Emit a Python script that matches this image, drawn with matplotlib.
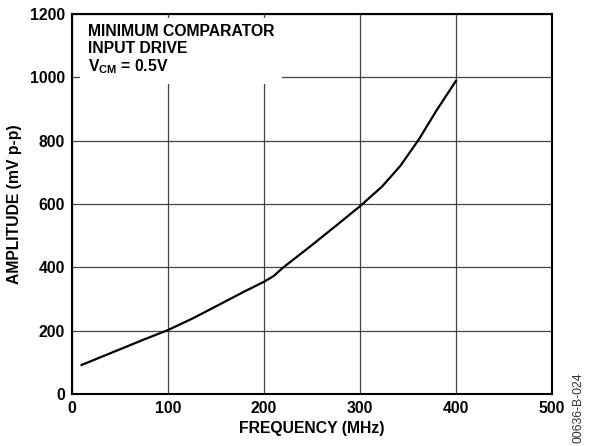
import matplotlib
matplotlib.use('Agg')
import matplotlib.pyplot as plt

# minimum comparator input drive vs frequency
freq_mhz = [10, 40, 74, 100, 126, 154, 180, 200, 210, 220, 248, 276, 300, 323, 342, 361, 380, 400]
amp_mv = [93, 130, 172, 203, 240, 284, 325, 355, 373, 400, 466, 534, 593, 655, 720, 802, 896, 988]

x_ticks = [0, 100, 200, 300, 400, 500]
y_ticks = [0, 200, 400, 600, 800, 1000, 1200]

plt.rcParams['font.family'] = 'Liberation Sans'
plt.rcParams['mathtext.fontset'] = 'custom'
plt.rcParams['mathtext.rm'] = 'Liberation Sans:bold'
plt.rcParams['mathtext.bf'] = 'Liberation Sans:bold'

FS = 11.3

fig = plt.figure(figsize=(5.92, 4.46), dpi=100)
ax = fig.add_axes([0.1216, 0.1155, 0.8108, 0.8542])

ax.plot(freq_mhz, amp_mv, color='black', linewidth=1.6, zorder=4)

ax.set_xlim(0, 500)
ax.set_ylim(0, 1200)
ax.set_xticks(x_ticks)
ax.set_yticks(y_ticks)
ax.tick_params(length=0, labelsize=FS, pad=5)
for lbl in ax.get_xticklabels() + ax.get_yticklabels():
    lbl.set_fontweight('bold')

ax.grid(True, color='#444444', linewidth=0.9)
for s in ax.spines.values():
    s.set_linewidth(1.5)
    s.set_zorder(5)

ax.set_xlabel('FREQUENCY (MHz)', fontsize=FS, fontweight='bold', labelpad=3)
ax.set_ylabel('AMPLITUDE (mV p-p)', fontsize=FS, fontweight='bold', labelpad=6)

# label block with a white backing so the grid stops around it
ax.text(0.033, 0.972, 'MINIMUM COMPARATOR\nINPUT DRIVE\nV$_{\\mathrm{CM}}$ = 0.5V',
        transform=ax.transAxes, ha='left', va='top', fontsize=FS,
        fontweight='bold', linespacing=1.12, zorder=3,
        bbox=dict(boxstyle='square,pad=0.5', facecolor='white', edgecolor='none'))

fig.text(0.978, 0.085, '00636-B-024', rotation=90, fontsize=8.7,
         color='#333333', ha='center', va='center')

plt.savefig('out.png', dpi=100)
plt.close()
